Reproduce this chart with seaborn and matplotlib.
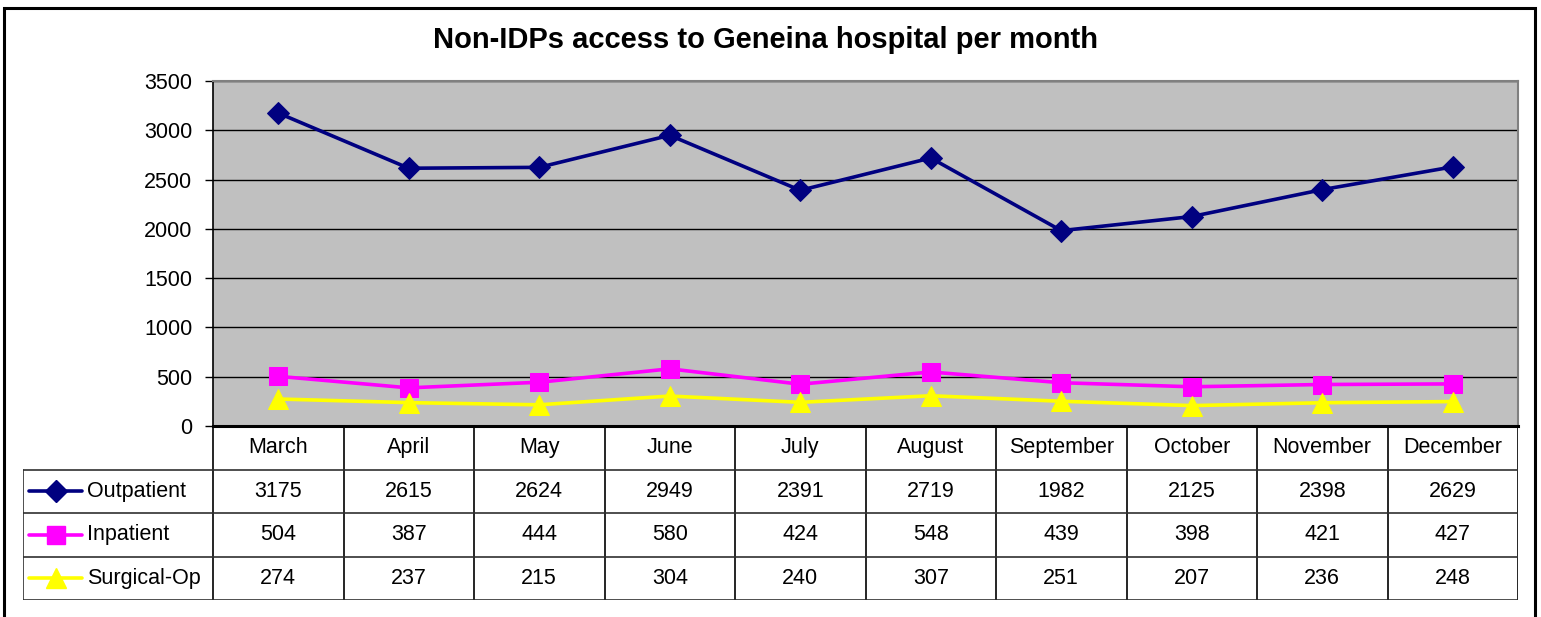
import numpy as np
import pandas as pd
import matplotlib
matplotlib.use("Agg")
import matplotlib.pyplot as plt
from matplotlib.lines import Line2D
from matplotlib.patches import Rectangle
import seaborn as sns

# Chart data
months = ["March", "April", "May", "June", "July", "August",
          "September", "October", "November", "December"]
series_names = ["Outpatient", "Inpatient", "Surgical-Op"]
outpatient = [3175, 2615, 2624, 2949, 2391, 2719, 1982, 2125, 2398, 2629]
inpatient = [504, 387, 444, 580, 424, 548, 439, 398, 421, 427]
surgical_op = [274, 237, 215, 304, 240, 307, 251, 207, 236, 248]
y_ticks = [0, 500, 1000, 1500, 2000, 2500, 3000, 3500]

colors = {"Outpatient": "#000080", "Inpatient": "#FF00FF", "Surgical-Op": "#FFFF00"}
markers = {"Outpatient": "D", "Inpatient": "s", "Surgical-Op": "^"}
msizes = {"Outpatient": 11, "Inpatient": 13, "Surgical-Op": 14}

values = {"Outpatient": outpatient, "Inpatient": inpatient, "Surgical-Op": surgical_op}
df = pd.concat(
    [pd.DataFrame({"month_idx": np.arange(len(months)), "value": values[s], "series": s})
     for s in series_names],
    ignore_index=True,
)

sns.set_style("white")
plt.rcParams["font.family"] = ["Liberation Sans", "DejaVu Sans"]
plt.rcParams["text.color"] = "black"
plt.rcParams["ytick.color"] = "black"

W, H = 1541, 617
fig = plt.figure(figsize=(W / 100, H / 100), dpi=100)

# pixel geometry of the Excel-style layout
px_left, px_right, px_top, px_bottom = 213, 1518, 81, 426
tbl_left, tbl_bottom = 23, 600

ax = fig.add_axes([px_left / W, 1 - px_bottom / H,
                   (px_right - px_left) / W, (px_bottom - px_top) / H])
ax.set_facecolor("#C0C0C0")

for s in series_names:
    sns.lineplot(data=df[df["series"] == s], x="month_idx", y="value", ax=ax,
                 color=colors[s], marker=markers[s], markersize=msizes[s],
                 markeredgecolor=colors[s], linewidth=2.6, legend=False)

ax.set_xlim(-0.5, len(months) - 0.5)
ax.set_ylim(0, 3500)
ax.set_yticks(y_ticks)
ax.set_xticks([])
ax.set_xlabel("")
ax.set_ylabel("")
ax.tick_params(axis="y", length=6, width=1, color="black", pad=9, labelsize=15.5,
               labelcolor="black", left=True)
ax.yaxis.grid(True, color="black", linewidth=1)
ax.set_axisbelow(True)
for side in ["top", "right"]:
    ax.spines[side].set_color("#808080")
    ax.spines[side].set_linewidth(1.5)
ax.spines["left"].set_color("black")
ax.spines["left"].set_linewidth(1.2)
ax.spines["bottom"].set_color("black")
ax.spines["bottom"].set_linewidth(2.2)

# data table below the plot
col_w = (px_right - px_left) / len(months)
x0 = -0.5 - (px_left - tbl_left) / col_w
tax = fig.add_axes([tbl_left / W, 1 - tbl_bottom / H,
                    (px_right - tbl_left) / W, (tbl_bottom - px_bottom) / H])
tax.set_xlim(x0, len(months) - 0.5)
tax.set_ylim(4, 0)
tax.axis("off")

line_c = "#303030"
for i in range(len(months) + 1):
    tax.plot([i - 0.5, i - 0.5], [0, 4], color="black", lw=1.2)
tax.plot([x0, x0], [1, 4], color=line_c, lw=1.2)
for r in [1, 2, 3, 4]:
    tax.plot([x0, len(months) - 0.5], [r, r], color=line_c, lw=1.2)

for i, m in enumerate(months):
    tax.text(i, 0.5, m, ha="center", va="center", fontsize=15.5)

for r, s in enumerate(series_names, start=1):
    for i, v in enumerate(values[s]):
        tax.text(i, r + 0.5, str(v), ha="center", va="center", fontsize=15.5)
    kx0 = x0 + 6 / col_w
    kx1 = x0 + 59 / col_w
    tax.add_line(Line2D([kx0, kx1], [r + 0.5, r + 0.5], color=colors[s], lw=2.6))
    tax.add_line(Line2D([(kx0 + kx1) / 2], [r + 0.5], color=colors[s], marker=markers[s],
                        markersize=msizes[s], markeredgecolor=colors[s]))
    tax.text(kx1 + 5 / col_w, r + 0.5, s, ha="left", va="center", fontsize=15.5)

fig.suptitle("Non-IDPs access to Geneina hospital per month", x=0.497, y=1 - 40 / H,
             va="center", fontsize=21, fontweight="bold", color="black")

# outer chart border
fig.patches.append(Rectangle((4 / W, -0.05), (1535 - 4) / W, 1.05 - 8 / H,
                             transform=fig.transFigure, fill=False,
                             edgecolor="black", linewidth=2.2))

fig.savefig("out.png", dpi=100)
